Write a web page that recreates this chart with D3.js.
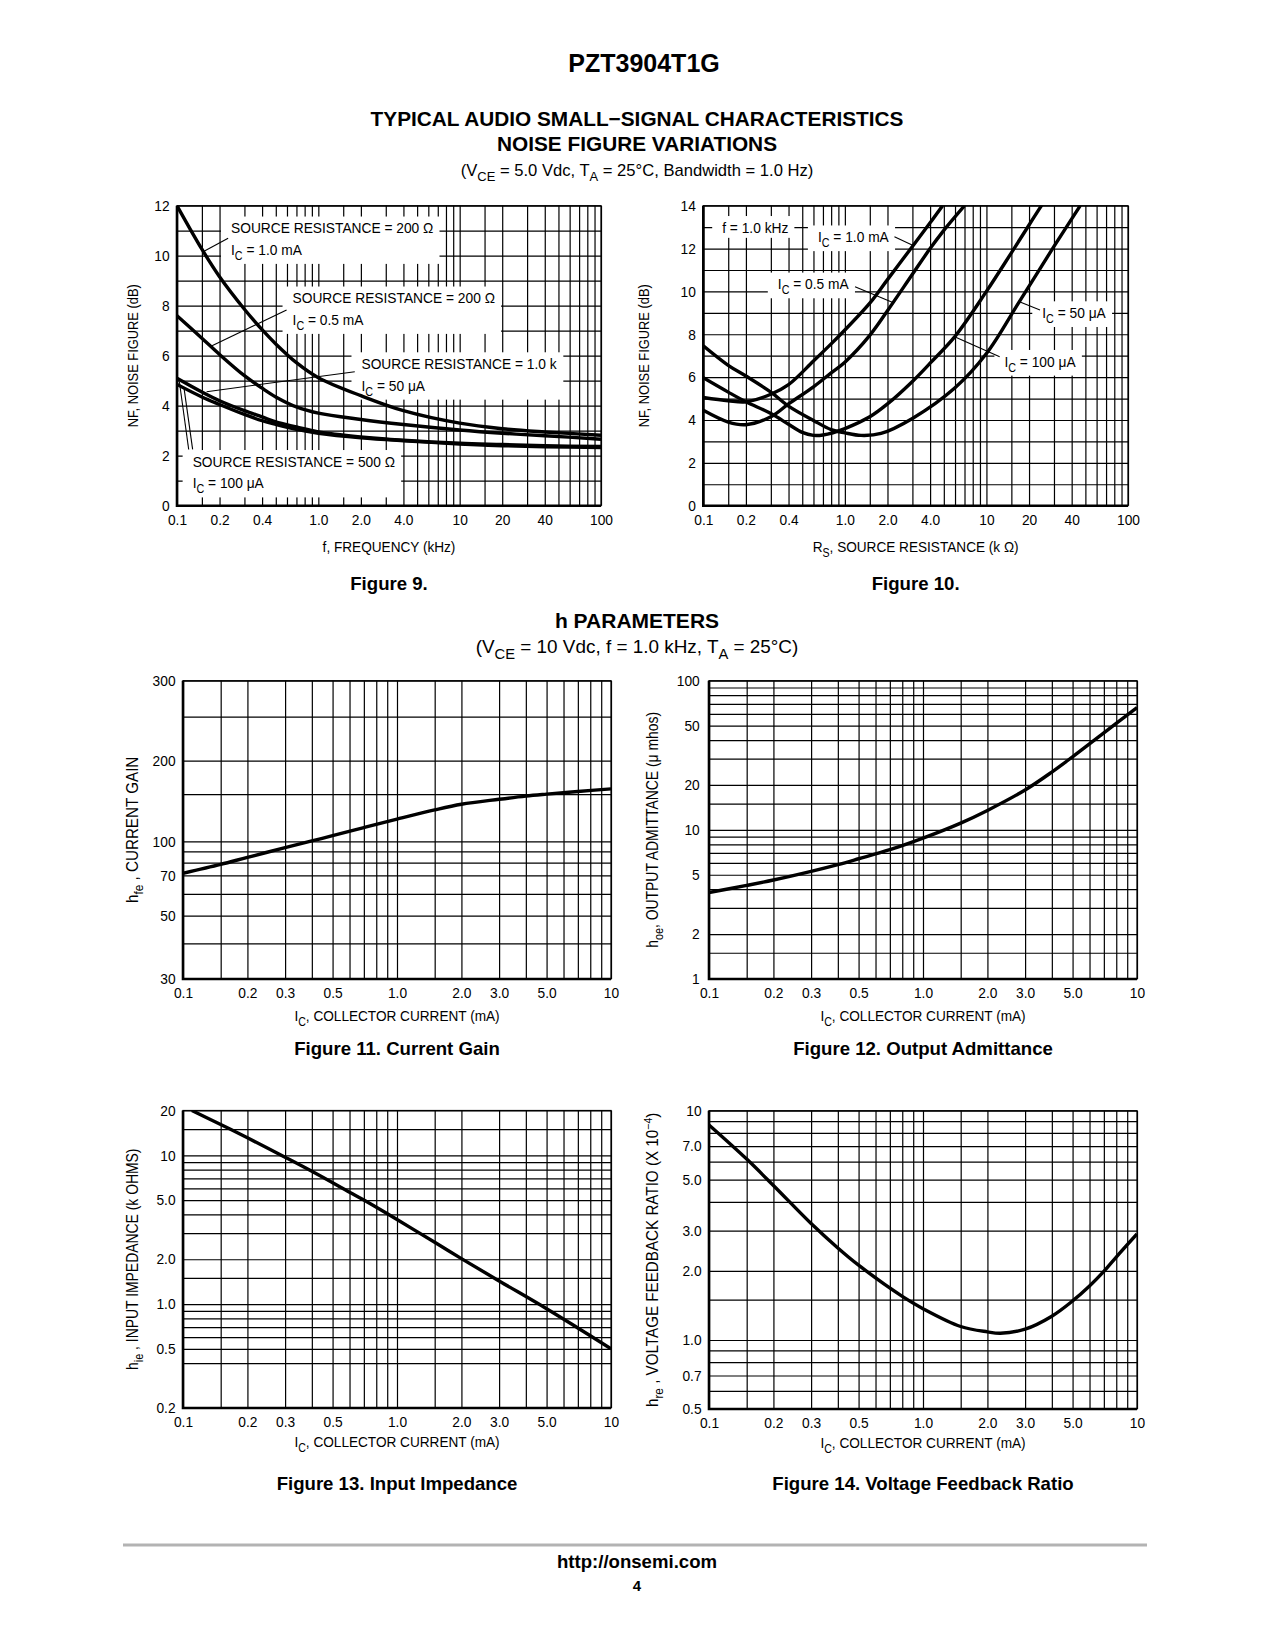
<!DOCTYPE html>
<html>
<head>
<meta charset="utf-8">
<script src="https://cdn.jsdelivr.net/npm/d3@7"></script>
<style>
  body { margin: 0; background: #fff; }
  svg text { font-family: "Liberation Sans", Arial, Helvetica, sans-serif; fill: #000; }
</style>
</head>
<body>
<svg id="page" width="1275" height="1650"></svg>
<script>
// ---------- Figure 9: noise figure vs frequency (kHz) ----------
const fig9Freq = [0.1, 0.15, 0.2, 0.3, 0.4, 0.5, 0.7, 1.0, 2.0, 4.0, 10, 20, 40, 100];
const fig9Rs200Ic1mA = [12.0, 10.26, 9.16, 7.86, 7.04, 6.47, 5.72, 5.12, 4.4, 3.8, 3.3, 3.08, 2.95, 2.82];
const fig9Rs200Ic05mA = [7.6, 6.7, 6.05, 5.2, 4.7, 4.35, 3.95, 3.7, 3.45, 3.25, 3.03, 2.9, 2.8, 2.66];
const fig9Rs1kIc50uA = [5.1, 4.55, 4.2, 3.8, 3.55, 3.35, 3.15, 2.95, 2.75, 2.62, 2.5, 2.45, 2.4, 2.37];
const fig9Rs500Ic100uA = [4.85, 4.35, 4.05, 3.65, 3.4, 3.25, 3.05, 2.9, 2.72, 2.6, 2.47, 2.4, 2.36, 2.33];

// ---------- Figure 10: noise figure vs source resistance (k ohm) ----------
const fig10RsIc1mA = [0.1, 0.15, 0.2, 0.3, 0.4, 0.6, 0.8, 1.0, 1.5, 2.0, 3.0, 4.0, 4.9];
const fig10NfIc1mA = [5.05, 4.9, 4.85, 5.2, 5.65, 6.75, 7.55, 8.2, 9.45, 10.55, 12.1, 13.2, 14.0];
const fig10RsIc05mA = [0.1, 0.15, 0.2, 0.3, 0.4, 0.6, 0.8, 1.0, 1.5, 2.0, 3.0, 4.0, 5.0, 7.0];
const fig10NfIc05mA = [4.45, 3.9, 3.78, 4.15, 4.75, 5.55, 6.2, 6.7, 7.95, 9.1, 10.8, 12.0, 12.85, 14.0];
const fig10RsIc100uA = [0.1, 0.15, 0.2, 0.3, 0.4, 0.5, 0.6, 0.7, 1.0, 1.5, 2.0, 3.0, 4.0, 6.0, 10, 15, 20, 25];
const fig10NfIc100uA = [5.97, 5.3, 4.85, 4.3, 3.8, 3.42, 3.28, 3.3, 3.6, 4.15, 4.75, 5.8, 6.65, 7.9, 10.0, 11.8, 13.1, 14.1];
const fig10RsIc50uA = [0.1, 0.15, 0.2, 0.3, 0.4, 0.6, 0.8, 1.0, 1.3, 1.8, 3.0, 6.0, 10, 17, 30, 46];
const fig10NfIc50uA = [7.46, 6.55, 6.05, 5.3, 4.65, 3.98, 3.55, 3.4, 3.28, 3.37, 4.07, 5.5, 7.1, 9.5, 12.1, 14.0];

// ---------- h parameters vs collector current (mA) ----------
const hIc = [0.1, 0.15, 0.2, 0.3, 0.4, 0.5, 0.7, 1.0, 1.5, 2.0, 3.0, 4.0, 5.0, 7.0, 10];
const hfeValues = [71.5, 78.5, 84.5, 93.5, 100.3, 105, 112.5, 121, 131, 137.5, 143.5, 147.5, 150, 153.5, 157];
const hoeValues = [3.8, 4.24, 4.61, 5.27, 5.85, 6.4, 7.36, 8.8, 11.1, 13.5, 18.5, 24.4, 30.9, 44.7, 66];
const hieIc = [0.11, 0.15, 0.2, 0.3, 0.4, 0.6, 0.7, 1.0, 1.5, 2.0, 3.0, 5.0, 7.0, 10];
const hieValues = [20, 16.1, 13.1, 9.7, 7.8, 5.65, 5.0, 3.7, 2.6, 2.02, 1.43, 0.93, 0.69, 0.5];
const hreIc = [0.1, 0.15, 0.2, 0.3, 0.4, 0.5, 0.8, 1.0, 1.5, 2.0, 2.3, 3.0, 4.0, 5.0, 6.0, 7.0, 8.0, 10];
const hreValues = [8.66, 6.15, 4.72, 3.22, 2.52, 2.12, 1.55, 1.37, 1.145, 1.085, 1.07, 1.115, 1.27, 1.48, 1.72, 1.99, 2.3, 2.9];

// ---------- tick labels ----------
const nfXTicks = [0.1, 0.2, 0.4, 1.0, 2.0, 4.0, 10, 20, 40, 100];
const nfXLabels = ['0.1', '0.2', '0.4', '1.0', '2.0', '4.0', '10', '20', '40', '100'];
const fig9YTicks = [0, 2, 4, 6, 8, 10, 12];
const fig10YTicks = [0, 2, 4, 6, 8, 10, 12, 14];
const icTicks = [0.1, 0.2, 0.3, 0.5, 1.0, 2.0, 3.0, 5.0, 10];
const icLabels = ['0.1', '0.2', '0.3', '0.5', '1.0', '2.0', '3.0', '5.0', '10'];
const hfeTicks = [30, 50, 70, 100, 200, 300];
const hfeGrid = [30, 40, 50, 60, 70, 80, 90, 100, 150, 200, 250, 300];
const hoeTicks = [1, 2, 5, 10, 20, 50, 100];
const hoeLabels = ['1', '2', '5', '10', '20', '50', '100'];
const hieTicks = [0.2, 0.5, 1.0, 2.0, 5.0, 10, 20];
const hieLabels = ['0.2', '0.5', '1.0', '2.0', '5.0', '10', '20'];
const hieGrid = [0.2, 0.4, 0.5, 0.6, 0.7, 0.8, 0.9, 1, 1.5, 2, 3, 4, 5, 6, 7, 8, 9, 10, 15, 20];
const hreTicks = [0.5, 0.7, 1.0, 2.0, 3.0, 5.0, 7.0, 10];
const hreLabels = ['0.5', '0.7', '1.0', '2.0', '3.0', '5.0', '7.0', '10'];
const hreGrid = [0.5, 0.6, 0.7, 0.8, 0.9, 1, 1.5, 2, 3, 4, 5, 6, 7, 8, 9, 10];

const decadeSteps = [1, 1.5, 2, 3, 4, 5, 6, 7, 8, 9];

const svg = d3.select('#page');

// grid values for a log axis: 1, 1.5, 2 ... 9 in every decade
const logGrid = (lo, hi) => {
  let out = [];
  for (let d = lo; d < hi * 0.999; d *= 10) {
    decadeSteps.forEach(m => {
      let v = +(d * m).toPrecision(3);
      if (v >= lo && v <= hi) out.push(v);
    });
  }
  out.push(hi);
  return out;
};

// text with I_{C} style subscripts and ^{x} superscripts
const richText = (sel, str, size) => {
  let parts = str.split(/(_\{[^}]*\}|\^\{[^}]*\})/).filter(s => s.length);
  let shift = 0;
  parts.forEach(p => {
    let target = 0;
    let txt = p;
    let fs = size;
    if (p.startsWith('_{')) { target = size * 0.32; txt = p.slice(2, -1); fs = size * 0.78; }
    if (p.startsWith('^{')) { target = -size * 0.4; txt = p.slice(2, -1); fs = size * 0.7; }
    sel.append('tspan').attr('dy', target - shift).attr('font-size', fs).text(txt);
    shift = target;
  });
  return sel;
};

// text placed with a transform, sx < 1 squeezes it like the condensed face of the sheet
const addText = (parent, x, y, str, size, opts = {}) => {
  let sx = opts.sx || 1;
  let tf = `translate(${x},${y})` + (opts.rotate ? ' rotate(-90)' : '') + ` scale(${sx},1)`;
  let t = parent.append('text')
    .attr('transform', tf)
    .attr('font-size', size)
    .attr('text-anchor', opts.anchor || 'middle')
    .attr('font-weight', opts.bold ? 'bold' : null);
  richText(t, str, size);
  return t;
};

const narrow = 0.89;

let panel = {};

panel.draw = function(p) {
  let x = d3.scaleLog().domain(p.xDomain).range([p.left, p.right]);
  let y = p.yLog
    ? d3.scaleLog().domain(p.yDomain).range(p.yRange)
    : d3.scaleLinear().domain(p.yDomain).range(p.yRange);
  let g = svg.append('g');
  let h = p.bottom - p.top;
  let w = p.right - p.left;

  // grid lines drawn as axes with full-length ticks
  let xg = g.append('g')
    .attr('transform', `translate(0,${p.bottom})`)
    .call(d3.axisBottom(x).tickValues(p.xGrid).tickSize(-h).tickFormat(''));
  let yg = g.append('g')
    .attr('transform', `translate(${p.left},0)`)
    .call(d3.axisLeft(y).tickValues(p.yGrid).tickSize(-w).tickFormat(''));
  [xg, yg].forEach(a => {
    a.select('.domain').remove();
    a.selectAll('line').attr('stroke', '#000').attr('stroke-width', 1.2);
  });

  // frame
  g.append('rect')
    .attr('x', p.left).attr('y', p.top).attr('width', w).attr('height', h)
    .attr('fill', 'none').attr('stroke', '#000').attr('stroke-width', 1.2);
  g.append('path')
    .attr('d', `M${p.left},${p.top}V${p.bottom}H${p.right}`)
    .attr('fill', 'none').attr('stroke', '#000').attr('stroke-width', 2.6);

  // annotation boxes (white, masking grid)
  let notes = g.append('g');
  (p.notes || []).forEach(n => {
    let ng = notes.append('g');
    let box = ng.append('rect').attr('fill', '#fff');
    let tg = ng.append('g');
    n.lines.forEach((l, i) => {
      addText(tg, x(n.x), y(n.y) + i * 21.7, l, 15.3, { anchor: 'start', sx: 0.9 });
    });
    let bb = tg.node().getBBox();
    box.attr('x', bb.x - 10).attr('y', bb.y - 3)
      .attr('width', bb.width + 16).attr('height', bb.height + 5);
  });

  // curves
  let clipId = 'clip' + p.id;
  g.append('clipPath').attr('id', clipId)
    .append('rect').attr('x', p.left).attr('y', p.top).attr('width', w).attr('height', h);
  const line = d3.line()
    .x(d => x(d[0]))
    .y(d => y(d[1]))
    .curve(d3.curveCatmullRom.alpha(0.5));
  g.append('g').attr('clip-path', `url(#${clipId})`)
    .selectAll('path')
    .data(p.series)
    .join('path')
    .attr('d', s => line(d3.zip(s.x, s.y)))
    .attr('fill', 'none')
    .attr('stroke', '#000')
    .attr('stroke-width', 3.4)
    .attr('stroke-linejoin', 'round');

  // leader lines
  (p.notes || []).forEach(n => {
    (n.leaders || []).forEach(ld => {
      g.append('line')
        .attr('x1', x(ld[0][0])).attr('y1', y(ld[0][1]))
        .attr('x2', x(ld[1][0])).attr('y2', y(ld[1][1]))
        .attr('stroke', '#000').attr('stroke-width', 1.1);
    });
  });

  // tick labels through axes
  let ax = g.append('g')
    .attr('transform', `translate(0,${p.bottom})`)
    .call(d3.axisBottom(x).tickValues(p.xTicks).tickSize(0).tickPadding(6)
      .tickFormat((d, i) => p.xLabels[i]));
  let ay = g.append('g')
    .attr('transform', `translate(${p.left},0)`)
    .call(d3.axisLeft(y).tickValues(p.yTicks).tickSize(0).tickPadding(p.yPad || 8)
      .tickFormat((d, i) => (p.yLabels ? p.yLabels[i] : d)));
  [ax, ay].forEach(a => {
    a.select('.domain').remove();
    a.attr('font-family', null).attr('font-size', null);
    a.selectAll('text').attr('font-size', 14.8).attr('fill', '#000')
      .attr('transform', 'scale(0.93,1)');
  });
  ax.selectAll('text').attr('dy', '0.9em');

  // titles
  addText(g, (p.left + p.right) / 2, p.bottom + p.xTitleDy, p.xTitle, 15.3, { sx: narrow });
  addText(g, p.left - p.yTitleDx, (p.top + p.bottom) / 2, p.yTitle, p.yTitleSize,
    { rotate: true, sx: p.yTitleSx });
  addText(g, (p.left + p.right) / 2, p.bottom + p.captionDy, p.caption, 18.6, { bold: true });
};

// ---------- page headers ----------
addText(svg, 644, 72, 'PZT3904T1G', 25, { bold: true });
addText(svg, 637, 126, 'TYPICAL AUDIO SMALL−SIGNAL CHARACTERISTICS', 20.8, { bold: true });
addText(svg, 637, 151, 'NOISE FIGURE VARIATIONS', 20.8, { bold: true });
addText(svg, 637, 176, '(V_{CE} = 5.0 Vdc, T_{A} = 25°C, Bandwidth = 1.0 Hz)', 16.6);
addText(svg, 637, 628, 'h PARAMETERS', 21, { bold: true });
addText(svg, 637, 653, '(V_{CE} = 10 Vdc, f = 1.0 kHz, T_{A} = 25°C)', 18.9);

panel.draw({
  id: 9, left: 177, right: 601, top: 205.7, bottom: 505.7,
  xDomain: [0.1, 100], yDomain: [0, 12], yRange: [505.7, 205.7],
  xGrid: logGrid(0.1, 100), yGrid: d3.range(0, 13),
  xTicks: nfXTicks, xLabels: nfXLabels, yTicks: fig9YTicks,
  series: [
    { x: fig9Freq, y: fig9Rs200Ic1mA },
    { x: fig9Freq, y: fig9Rs200Ic05mA },
    { x: fig9Freq, y: fig9Rs1kIc50uA },
    { x: fig9Freq, y: fig9Rs500Ic100uA }
  ],
  notes: [
    { x: 0.241, y: 10.9, lines: ['SOURCE RESISTANCE = 200 Ω', 'I_{C} = 1.0 mA'],
      leaders: [[[0.23, 10.7], [0.153, 10.16]]] },
    { x: 0.657, y: 8.1, lines: ['SOURCE RESISTANCE = 200 Ω', 'I_{C} = 0.5 mA'],
      leaders: [[[0.596, 7.83], [0.171, 6.36]]] },
    { x: 2.02, y: 5.47, lines: ['SOURCE RESISTANCE = 1.0 k', 'I_{C} = 50 μA'],
      leaders: [[[1.81, 5.36], [0.162, 4.56]]] },
    { x: 0.129, y: 1.56, lines: ['SOURCE RESISTANCE = 500 Ω', 'I_{C} = 100 μA'],
      leaders: [[[0.129, 2.25], [0.112, 4.72]], [[0.121, 2.25], [0.104, 4.95]]] }
  ],
  xTitle: 'f, FREQUENCY (kHz)', xTitleDy: 46,
  yTitle: 'NF, NOISE FIGURE (dB)', yTitleDx: 39, yTitleSize: 15, yTitleSx: 0.86,
  caption: 'Figure 9.', captionDy: 84
});

panel.draw({
  id: 10, left: 703.3, right: 1128, top: 205.7, bottom: 505.7,
  xDomain: [0.1, 100], yDomain: [0, 14], yRange: [505.7, 205.7],
  xGrid: logGrid(0.1, 100), yGrid: d3.range(0, 15),
  xTicks: nfXTicks, xLabels: nfXLabels, yTicks: fig10YTicks,
  series: [
    { x: fig10RsIc1mA, y: fig10NfIc1mA },
    { x: fig10RsIc05mA, y: fig10NfIc05mA },
    { x: fig10RsIc100uA, y: fig10NfIc100uA },
    { x: fig10RsIc50uA, y: fig10NfIc50uA }
  ],
  notes: [
    { x: 0.136, y: 12.74, lines: ['f = 1.0 kHz'] },
    { x: 0.645, y: 12.3, lines: ['I_{C} = 1.0 mA'], leaders: [[[2.24, 12.55], [3.01, 12.16]]] },
    { x: 0.336, y: 10.1, lines: ['I_{C} = 0.5 mA'], leaders: [[[1.18, 10.22], [2.16, 9.49]]] },
    { x: 24.8, y: 8.76, lines: ['I_{C} = 50 μA'], leaders: [[[23.9, 9.13], [17.1, 9.52]]] },
    { x: 13.4, y: 6.49, lines: ['I_{C} = 100 μA'], leaders: [[[12.4, 6.95], [5.96, 7.89]]] }
  ],
  xTitle: 'R_{S}, SOURCE RESISTANCE (k Ω)', xTitleDy: 46,
  yTitle: 'NF, NOISE FIGURE (dB)', yTitleDx: 54, yTitleSize: 15, yTitleSx: 0.86,
  caption: 'Figure 10.', captionDy: 84
});

panel.draw({
  id: 11, left: 183, right: 611, top: 680.7, bottom: 979,
  xDomain: [0.1, 10], yLog: true,
  yDomain: hfeTicks, yRange: [979, 915.7, 875.3, 841.3, 760.7, 680.7],
  xGrid: logGrid(0.1, 10), yGrid: hfeGrid,
  xTicks: icTicks, xLabels: icLabels, yTicks: hfeTicks,
  series: [{ x: hIc, y: hfeValues }],
  xTitle: 'I_{C}, COLLECTOR CURRENT (mA)', xTitleDy: 42,
  yTitle: 'h_{fe} , CURRENT GAIN', yTitleDx: 45, yTitleSize: 16, yTitleSx: 0.95,
  caption: 'Figure 11. Current Gain', captionDy: 76
});

panel.draw({
  id: 12, left: 709, right: 1137, top: 680.7, bottom: 979,
  xDomain: [0.1, 10], yLog: true, yDomain: [1, 100], yRange: [979, 680.7],
  xGrid: logGrid(0.1, 10), yGrid: logGrid(1, 100),
  xTicks: icTicks, xLabels: icLabels, yTicks: hoeTicks, yLabels: hoeLabels, yPad: 10,
  series: [{ x: hIc, y: hoeValues }],
  xTitle: 'I_{C}, COLLECTOR CURRENT (mA)', xTitleDy: 42,
  yTitle: 'h_{oe}, OUTPUT ADMITTANCE (μ mhos)', yTitleDx: 51, yTitleSize: 16, yTitleSx: 0.87,
  caption: 'Figure 12. Output Admittance', captionDy: 76
});

panel.draw({
  id: 13, left: 183, right: 611, top: 1110.5, bottom: 1408,
  xDomain: [0.1, 10], yLog: true, yDomain: [0.2, 20], yRange: [1408, 1110.5],
  xGrid: logGrid(0.1, 10), yGrid: hieGrid,
  xTicks: icTicks, xLabels: icLabels, yTicks: hieTicks, yLabels: hieLabels,
  series: [{ x: hieIc, y: hieValues }],
  xTitle: 'I_{C}, COLLECTOR CURRENT (mA)', xTitleDy: 39,
  yTitle: 'h_{ie} , INPUT IMPEDANCE (k OHMS)', yTitleDx: 45, yTitleSize: 16, yTitleSx: 0.87,
  caption: 'Figure 13. Input Impedance', captionDy: 82
});

panel.draw({
  id: 14, left: 709, right: 1137, top: 1110.7, bottom: 1409,
  xDomain: [0.1, 10], yLog: true, yDomain: [0.5, 10], yRange: [1409, 1110.7],
  xGrid: logGrid(0.1, 10), yGrid: hreGrid,
  xTicks: icTicks, xLabels: icLabels, yTicks: hreTicks, yLabels: hreLabels,
  series: [{ x: hreIc, y: hreValues }],
  xTitle: 'I_{C}, COLLECTOR CURRENT (mA)', xTitleDy: 39,
  yTitle: 'h_{re} , VOLTAGE FEEDBACK RATIO (X 10^{−4})', yTitleDx: 51, yTitleSize: 16, yTitleSx: 0.95,
  caption: 'Figure 14. Voltage Feedback Ratio', captionDy: 81
});

// ---------- footer ----------
svg.append('line')
  .attr('x1', 123).attr('x2', 1147).attr('y1', 1545).attr('y2', 1545)
  .attr('stroke', '#b3b3b3').attr('stroke-width', 3);
addText(svg, 637, 1568, 'http://onsemi.com', 18.6, { bold: true });
addText(svg, 637, 1591, '4', 15, { bold: true });
</script>
</body>
</html>
